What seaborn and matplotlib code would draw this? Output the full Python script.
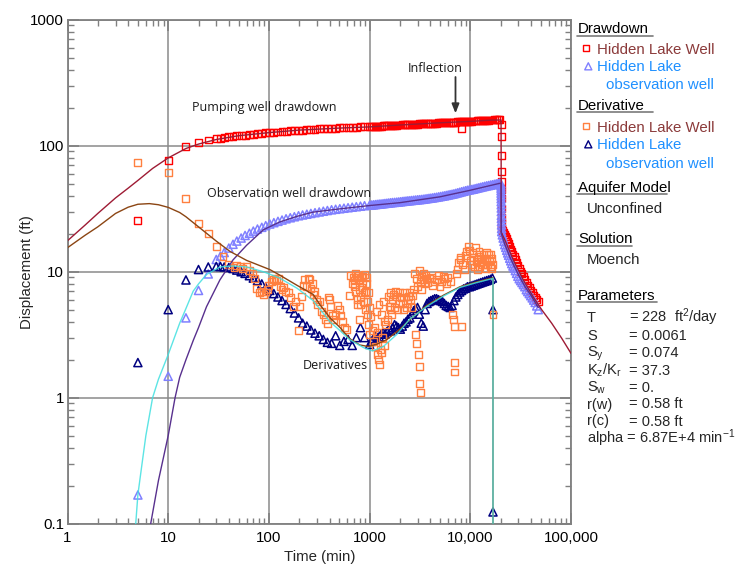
import numpy as np
import matplotlib
matplotlib.use("Agg")
import matplotlib.pyplot as plt
import seaborn as sns
from matplotlib.ticker import LogLocator, NullFormatter

sns.set_style("ticks")
plt.rcParams["font.family"] = ["Liberation Sans", "DejaVu Sans"]
plt.rcParams["mathtext.default"] = "regular"

# ---------------- data ----------------
# time stamps of the dense drawdown records (min)
band_t = [30, 33, 36, 40, 44, 48, 53, 58, 64, 70,
          77, 85, 93, 102, 112, 123, 135, 148, 163, 179,
          197, 216, 238, 261, 287, 316, 347, 381, 419, 460,
          506, 556, 611, 672, 738, 811, 891,
          1000, 1045, 1090, 1140, 1190, 1245, 1300, 1360, 1420, 1485,
          1550, 1620, 1690, 1770, 1850, 1930, 2020, 2110, 2200, 2300,
          2400, 2510, 2620, 2740, 2860, 2990, 3120, 3260, 3410, 3560,
          3720, 3890, 4060, 4240, 4430, 4630, 4840, 5060, 5290, 5520,
          5770, 6030, 6300, 6590, 6880, 7190, 7510, 7850, 8200, 8570,
          8960, 9360, 9780, 10220, 10680, 11160, 11660, 12180, 12730, 13300,
          13900, 14530, 15180, 15860, 16570, 17320, 18100, 18910, 19500]

early_t = [5, 10, 15, 20, 25]

# Drawdown, Hidden Lake Well (pumping well)
pw_early = [25.4, 76, 98, 105.6, 111]
pw_band = [114, 115, 116, 117.5, 118.5, 119.5, 120.5, 121.5, 122.5, 123.5,
           124.5, 125.5, 126.5, 127, 128, 128.5, 129.5, 130, 131, 131.5,
           132.5, 133, 134, 134.5, 135, 136, 136.5, 137, 137.5, 138,
           138.5, 139, 139.5, 140, 140.5, 141, 141,
           141.5, 142, 142, 142.5, 142.5, 143, 143, 143.5, 144, 144,
           144.5, 145, 145, 145.5, 145.5, 146, 146, 146.5, 147, 147,
           147.5, 147.5, 148, 148, 148.5, 148.5, 149, 149, 149.5, 149.5,
           150, 150, 150.5, 150.5, 151, 151, 151.5, 152, 152, 152.5,
           152.5, 153, 153, 153.5, 154, 154, 154.5, 155, 155, 155.5,
           155.5, 156, 156, 156.5, 157, 157, 157.5, 158, 158, 158.5,
           159, 159, 159.5, 160, 160, 160.5, 161, 161.5, 162]
pw_outlier_t = [8220]
pw_outlier = [137]
pw_rec_t = [20200, 20200, 20200, 20200, 20230, 20250, 20280, 20300, 20350, 20420,
            20600, 21000, 21500, 22000, 22500, 23000, 23500, 24000, 24600, 25200,
            25800, 26500, 27200, 28000, 28800, 29700, 30600, 31600, 32600, 33700,
            34800, 36000, 37200, 38500, 39800, 41200, 42600, 44100, 45700, 47500]
pw_rec = [148, 118, 83, 62, 52, 45, 38, 32, 27, 24,
          22, 21.2, 20.4, 19.6, 18.9, 18.2, 17.4, 16.7, 15.9, 15.1,
          14.5, 13.8, 13.2, 12.5, 11.9, 11.3, 10.7, 10.1, 9.6, 9.1,
          8.7, 8.2, 7.8, 7.5, 7.1, 6.8, 6.5, 6.2, 6.0, 5.8]

# Drawdown, Hidden Lake observation well
ow_early = [0.169, 1.48, 4.3, 7.1, 9.6]
ow_band = [12.5, 13.3, 14.2, 15.4, 16.5, 17.5, 18.5, 19.4, 20.2, 21.0,
           21.8, 22.5, 23.2, 23.9, 24.5, 25.1, 25.7, 26.3, 26.8, 27.3,
           27.8, 28.2, 28.6, 29.0, 29.4, 29.8, 30.2, 30.6, 31.0, 31.3,
           31.6, 31.9, 32.2, 32.5, 32.8, 33.1, 33.4,
           33.7, 33.8, 33.95, 34.1, 34.25, 34.4, 34.5, 34.65, 34.8, 34.95,
           35.1, 35.25, 35.4, 35.5, 35.6, 35.75, 35.9, 36.05, 36.2, 36.35,
           36.5, 36.6, 36.75, 36.9, 37.05, 37.2, 37.3, 37.45, 37.6, 37.8,
           38.0, 38.2, 38.35, 38.55, 38.8, 39.0, 39.25, 39.5, 39.75, 40.0,
           40.3, 40.6, 40.9, 41.2, 41.5, 41.9, 42.3, 42.7, 43.1, 43.5,
           43.9, 44.3, 44.6, 44.9, 45.2, 45.6, 46.0, 46.4, 46.8, 47.2,
           47.6, 48.0, 48.3, 48.7, 49.0, 49.4, 49.8, 50.1, 50.3]
ow_rec_t = [20150, 20150, 20170, 20190, 20200, 20210, 20230, 20250, 20270, 20290,
            20310, 20330, 20350, 20380, 20410, 20450, 20500,
            20800, 21200, 21600, 22000, 22500, 23000, 23500, 24000, 24600, 25200,
            25800, 26500, 27200, 28000, 28800, 29700, 30600, 31600, 32600, 33700,
            34800, 36000, 37200, 38500, 39800, 41200, 42600, 44100, 45700, 47300]
ow_rec = [50, 48, 46, 44, 42, 40, 38, 36, 34, 32,
          30, 28, 26.5, 25, 23.5, 22, 20.8,
          19.6, 18.5, 17.4, 16.4, 15.6, 14.8, 14.1, 13.5, 12.8, 12.2,
          11.6, 11.1, 10.7, 10.2, 9.7, 9.2, 8.8, 8.5, 8.2, 7.9,
          7.6, 7.2, 6.95, 6.7, 6.45, 6.2, 5.95, 5.7, 5.35, 5.0]

# Derivative, Hidden Lake Well
pd_t = [5, 10, 15, 20, 25, 30, 35, 40, 45, 48,
        52, 55, 60, 64, 68, 72, 76, 80, 84, 88,
        92, 96, 100, 105, 110, 115, 120, 125, 130, 135,
        140, 147, 155, 165, 176, 185, 195, 200, 210, 218,
        228, 236, 245, 255, 262, 270, 278, 285, 295, 305,
        320, 335, 350, 365, 380, 390, 400, 410, 425, 440,
        460, 480, 500, 520, 540, 560, 590, 630, 650, 670,
        690, 710, 730, 750, 770, 800, 820, 840, 860, 880,
        900, 930, 960, 980, 1000, 1030, 1060, 1100, 1150, 1200,
        1230, 1260, 1300, 1350, 1400, 1450, 1500, 1560, 1620, 1700,
        1780, 1850, 1950, 2050, 2150, 2300, 2400, 2500, 2600, 2700,
        2800, 2850, 2900, 2950, 3000, 3050, 3100, 3120, 3150, 3180,
        3200, 3300, 3400, 3500, 3700, 3950, 4200, 4600, 5000, 5400,
        5800, 6300, 6600, 6800, 6900, 6950, 7000, 7300, 7700, 8000,
        8200, 8700, 9200, 9500, 10000, 10600, 11000, 11600, 12000, 12400,
        13000, 13600, 14200, 14600, 15200, 15800, 16200, 16600, 16800]
pd_v = [73, 61, 37.8, 24, 20, 15.8, 13.3, 11.5, 10.8, 11.2,
        11, 10.6, 11, 10.2, 9.6, 8.8, 7.3, 6.8, 7.0, 6.6,
        6.9, 7.2, 7.8, 8.4, 8.7, 8.9, 8.5, 8.8, 7.6, 7.2,
        7.5, 7.0, 6.8, 6.2, 5.3, 5.8, 3.4, 5.3, 6.4, 7.8,
        8.6, 7.6, 8.8, 8.6, 7.4, 8.0, 6.6, 7.0, 6.0, 5.5,
        5.8, 4.8, 4.6, 4.2, 3.9, 6.3, 6.0, 5.3, 4.5, 4.2,
        4.6, 5.4, 5.0, 4.5, 4.0, 3.6, 3.5, 6.5, 9.4, 8.0,
        9.0, 7.6, 9.6, 6.0, 8.6, 4.2, 5.5, 7.5, 9.2, 6.8,
        5.0, 8.0, 4.6, 3.8, 3.2, 4.4, 3.4, 2.8, 2.55, 2.2,
        2.0, 1.85, 2.3, 3.0, 2.6, 3.8, 4.2, 5.3, 5.0, 6.0,
        5.2, 6.4, 5.6, 6.2, 5.0, 6.3, 5.6, 6.8, 5.2, 7.2,
        9.6, 3.2, 8.8, 2.7, 7.6, 2.2, 10.2, 1.77, 1.3, 1.1,
        8.4, 7.2, 9.6, 8.0, 8.8, 8.9, 7.8, 8.6, 7.6, 9.2,
        8.0, 8.3, 4.6, 4.2, 3.7, 1.9, 1.6, 9.7, 11.9, 13.0,
        3.7, 10.5, 14.5, 15.8, 12.3, 14.2, 10.9, 12.0, 13.2, 11.0,
        12.0, 13.6, 10.6, 12.5, 13.6, 11.0, 12.8, 11.5, 4.6]
# denser clusters of the same record
pd2_t = [700, 720, 740, 760, 780, 790, 810, 830, 850, 870, 890, 910, 940, 950, 970, 990,
         1120, 1170, 1210, 1240, 1270, 1320, 1380, 1420,
         1530, 1600, 1650, 1730, 1800, 1880, 1980, 2100, 2200, 2350, 2450, 2550, 2650,
         3250, 3450, 3600, 3800, 4100, 4400, 4800, 5200, 5600, 6000,
         7500, 7900, 8400, 8900, 9800, 10300, 10800, 11300, 11800, 12200, 12700, 13300,
         13900, 14400, 14900, 15500, 16000, 16400]
pd2_v = [8.5, 7.0, 9.0, 5.5, 9.3, 7.2, 6.4, 9.0, 8.2, 5.8, 9.5, 7.0, 9.0, 5.8, 6.8, 5.2,
         3.6, 4.8, 3.3, 5.5, 2.4, 4.6, 5.8, 4.0,
         6.4, 6.8, 4.6, 6.6, 7.0, 5.0, 6.8, 5.6, 6.9, 5.2, 6.4, 6.0, 6.5,
         9.2, 8.6, 9.4, 8.2, 9.0, 8.4, 9.4, 8.4, 8.8, 9.0,
         10.5, 12.5, 11.5, 13.5, 14.8, 11.5, 13.0, 15.5, 10.5, 14.5, 12.5, 11.5,
         12.8, 14.2, 11.5, 12.2, 13.8, 10.6]

# Derivative, Hidden Lake observation well
od_early = [1.9, 5.0, 8.6, 10.4, 10.9]
od_band = [11.0, 11.0, 10.9, 10.8, 10.6, 10.3, 10.0, 9.7, 9.3, 8.9,
           8.5, 8.0, 7.5, 7.1, 6.7, 6.3, 5.9, 5.5, 5.1, 4.7,
           4.3, 3.9, 3.7, 3.45, 3.25, 3.1, 2.9, 2.75, 2.7, 3.1,
           2.6, 2.8, 2.9, 2.6, 3.0, 3.6, 3.0,
           2.65, 2.8, 2.95, 3.1, 3.0, 3.05, 3.2, 3.3, 3.2, 3.35,
           3.5, 3.4, 3.6, 3.8, 3.7, 3.6, 3.5, 3.7, 3.9, 4.0,
           4.2, 4.3, 4.6, 4.9, 5.1, 5.2, 4.6, 3.9, 3.7, 5.0,
           5.6, 5.8, 5.9, 6.0, 6.1, 6.1, 6.0, 5.9, 5.8, 5.6,
           5.4, 5.3, 5.2, 5.4, 5.9, 6.3, 6.6, 6.9, 7.1, 7.3,
           7.4, 7.6, 7.6, 7.7, 7.8, 7.9, 8.0, 8.1, 8.2, 8.3,
           8.4, 8.5, 8.6, 8.7, 8.9]
od_end_t = [16800, 16800]
od_end = [5.0, 0.124]

# Model curves (Moench solution)
pm_t = [1, 1.5, 2, 3, 4, 5, 7, 10, 15, 20, 30, 50, 100, 200, 500, 1000, 2000, 5000,
        10000, 16000, 20200, 20320, 22100, 26700, 33600, 42200, 51100, 64300, 80900, 100000]
pm_s = [17.6, 23.5, 29, 38.5, 46, 53, 66, 80, 95, 103, 112, 120, 127, 133, 138, 141, 146, 152,
        156, 159.5, 160, 20.5, 17.8, 12.4, 8.6, 6.3, 5.0, 3.9, 2.96, 2.25]

om_t = [6.7, 8, 10, 11.7, 13, 15, 17.8, 20, 24, 32.6, 44, 60, 88, 128, 190, 275, 500, 1000,
        2000, 5000, 10000, 18000, 20200, 20320, 22000, 25000, 30000, 35000, 40000, 47300]
om_s = [0.1, 0.22, 0.5, 1.0, 1.45, 2.0, 2.87, 3.6, 5.27, 8.6, 12.4, 16.2, 21.5, 24.8, 27.5, 29.7, 31.5, 33.5,
        35.3, 39.3, 44.3, 49.5, 50.5, 20, 16.5, 12.8, 9.5, 7.6, 6.5, 5.2]

bd_t = [1, 1.5, 2, 3, 4, 5, 6.5, 8, 10, 13, 15, 20, 30, 41, 60, 102, 128, 190, 275, 320,
        405, 510, 630, 800, 970, 1170, 1490, 2000, 2700, 3700, 5400, 7900, 11600, 16400, 16800, 16800]
bd_v = [15.5, 19.5, 22.7, 29, 32.5, 34.3, 34.7, 34, 32.4, 29.5, 27.3, 22.7, 17.5, 14.5, 12.3, 10.4, 9.4, 7.8, 6.6, 5.5,
        4.3, 3.6, 2.95, 2.62, 2.55, 2.65, 2.9, 3.5, 4.4, 5.4, 6.5, 7.6, 8.3, 8.9, 9.0, 0.05]

cd_t = [4.76, 5, 5.5, 6, 7, 8, 10, 13, 15, 17.7, 20, 24, 32.6, 44, 60, 88, 128, 190, 275, 405,
        510, 630, 870, 1070, 1370, 1880, 2500, 3700, 5400, 7900, 11600, 16400, 16800, 16800]
cd_v = [0.1, 0.17, 0.3, 0.5, 1.0, 1.4, 2.2, 3.9, 5.1, 7.0, 8.0, 9.5, 10.9, 11.1, 10.9, 10.0, 8.9, 7.4, 5.9, 4.0,
        3.4, 2.9, 2.5, 2.35, 2.55, 3.2, 4.2, 5.3, 6.4, 7.5, 8.2, 8.8, 8.9, 0.05]

x_ticks = [1, 10, 100, 1000, 10000, 100000]
x_labels = ["1", "10", "100", "1000", "10,000", "100,000"]
y_ticks = [0.1, 1, 10, 100, 1000]
y_labels = ["0.1", "1", "10", "100", "1000"]

# ---------------- colours ----------------
C_PW = "#ff0000"
C_OW = "#8080ff"
C_PD = "#ff8040"
C_OD = "#000080"
C_PM = "#9e1b34"
C_OM = "#58308e"
C_BD = "#8b4513"
C_CD = "#40e0e0"

# ---------------- figure ----------------
W, H = 749, 568
fig = plt.figure(figsize=(W / 100, H / 100), dpi=100)
ax = fig.add_axes([67.5 / W, 1 - 523.7 / H, 503.5 / W, 504 / H])
ax.set_xscale("log")
ax.set_yscale("log")

SQ = 25
TR = 34


def open_pts(t, v, marker, color, size, lw=1.0, z=2):
    sns.scatterplot(x=t, y=v, marker=marker, s=size, color=color, facecolor="none",
                    edgecolor=color, linewidth=lw, ax=ax, legend=False, zorder=z)


def model(t, v, color, lw=1.0, alpha=1.0, z=4):
    sns.lineplot(x=t, y=v, sort=False, estimator=None, color=color, linewidth=lw,
                 alpha=alpha, ax=ax, legend=False, zorder=z)


# drawdown data
open_pts(early_t + band_t + pw_outlier_t + pw_rec_t, pw_early + pw_band + pw_outlier + pw_rec,
         "s", C_PW, SQ, z=2)
open_pts(early_t + band_t + ow_rec_t, ow_early + ow_band + ow_rec, "^", C_OW, TR, lw=1.1, z=2.1)
# derivative data
open_pts(early_t + band_t[:len(od_band)] + od_end_t, od_early + od_band + od_end, "^", C_OD, TR,
         lw=1.1, z=2.2)
open_pts(pd_t + pd2_t, pd_v + pd2_v, "s", C_PD, SQ, z=2.3)

# model curves
model(pm_t, pm_s, C_PM)
model(om_t, om_s, C_OM)
model(bd_t, bd_v, C_BD)
model(cd_t, cd_v, C_CD, alpha=0.85)

ax.set_xlim(1, 1e5)
ax.set_ylim(0.1, 1000)
ax.set_xticks(x_ticks, x_labels)
ax.set_yticks(y_ticks, y_labels)
for axis in (ax.xaxis, ax.yaxis):
    axis.set_minor_locator(LogLocator(base=10, subs=np.arange(2, 10), numticks=20))
    axis.set_minor_formatter(NullFormatter())
ax.tick_params(which="both", direction="in", top=True, right=True, color="#808080",
               labelsize=10.8, labelcolor="black")
ax.tick_params(which="major", length=8, width=1.2)
ax.tick_params(which="minor", length=4.5, width=1)
ax.tick_params(axis="x", pad=5)
ax.tick_params(axis="y", pad=2.5)
ax.grid(True, which="major", color="#8a8a8a", linewidth=1.1)
ax.set_axisbelow(True)
for sp in ax.spines.values():
    sp.set_color("#808080")
    sp.set_linewidth(1.3)

ax.set_xlabel("Time (min)", fontsize=10.8)
ax.set_ylabel("Displacement (ft)", fontsize=10.8)
ax.xaxis.set_label_coords(0.5, -0.052)
ax.yaxis.set_label_coords(-0.066, 0.5)

ann = dict(fontsize=9, family=["Open Sans", "DejaVu Sans"], color="#1a1a1a",
           transform=ax.transAxes, va="center", ha="left")
ax.text(0.2467, 0.826, "Pumping well drawdown", **ann)
ax.text(0.2765, 0.6556, "Observation well drawdown", **ann)
ax.text(0.6763, 0.9036, "Inflection", **ann)
ax.text(0.4677, 0.3135, "Derivatives", **ann)
ax.annotate("", xy=(0.7706, 0.8143), xytext=(0.7706, 0.8863), xycoords="axes fraction",
            arrowprops=dict(arrowstyle="-|>,head_length=0.55,head_width=0.22",
                            color="#333333", lw=1.3, shrinkA=0, shrinkB=0))

# ---------------- side legend / info panel ----------------
lg = fig.add_axes([0, 0, 1, 1], facecolor="none")
lg.set_xlim(0, W)
lg.set_ylim(H, 0)
lg.axis("off")

FS = 10.8
FSP = 10.5
C_TXT1 = "#8b3a3a"
C_TXT2 = "#1e90ff"


def header(y, s, x2):
    lg.text(578, y, s, fontsize=FS, va="baseline", ha="left", color="black")
    lg.plot([577, x2], [y + 2.2, y + 2.2], color="#7a7a7a", lw=1.2)


header(33.3, "Drawdown", 653)
lg.scatter([585.7], [48.3], marker="s", s=20, facecolor="none", edgecolor=C_PW, linewidth=1)
lg.text(597.3, 54, "Hidden Lake Well", fontsize=FS, va="baseline", color=C_TXT1)
lg.scatter([588.3], [66.3], marker="^", s=26, facecolor="none", edgecolor=C_OW, linewidth=1)
lg.text(597.3, 71, "Hidden Lake", fontsize=FS, va="baseline", color=C_TXT2)
lg.text(605.7, 89.3, "observation well", fontsize=FS, va="baseline", color=C_TXT2)

header(110, "Derivative", 653)
lg.scatter([585.7], [125.7], marker="s", s=20, facecolor="none", edgecolor=C_PD, linewidth=1)
lg.text(597.3, 131.7, "Hidden Lake Well", fontsize=FS, va="baseline", color=C_TXT1)
lg.scatter([588.3], [144.3], marker="^", s=26, facecolor="none", edgecolor=C_OD, linewidth=1)
lg.text(597.3, 149.3, "Hidden Lake", fontsize=FS, va="baseline", color=C_TXT2)
lg.text(605.7, 167.7, "observation well", fontsize=FS, va="baseline", color=C_TXT2)

header(191.7, "Aquifer Model", 667)
lg.text(587, 212.7, "Unconfined", fontsize=FS, va="baseline")
header(243.3, "Solution", 632)
lg.text(587, 264, "Moench", fontsize=FS, va="baseline")
header(300, "Parameters", 657)

params = [("T", "= 228  ft$^2$/day", 322.3),
          ("S", "= 0.0061", 340),
          ("S$_y$", "= 0.074", 357.0),
          ("K$_z$/K$_r$", "= 37.3", 374.8),
          ("S$_w$", "= 0.", 392),
          ("r(w)", "= 0.58 ft", 408.5),
          ("r(c)", "= 0.58 ft", 425.5)]
for name, val, y in params:
    lg.text(587, y, name, fontsize=FSP, va="baseline")
    lg.text(629, y, val, fontsize=FSP, va="baseline")
lg.text(587, 442.7, "alpha = 6.87E+4 min$^{-1}$", fontsize=FSP, va="baseline")

fig.savefig("out.png", dpi=100)
